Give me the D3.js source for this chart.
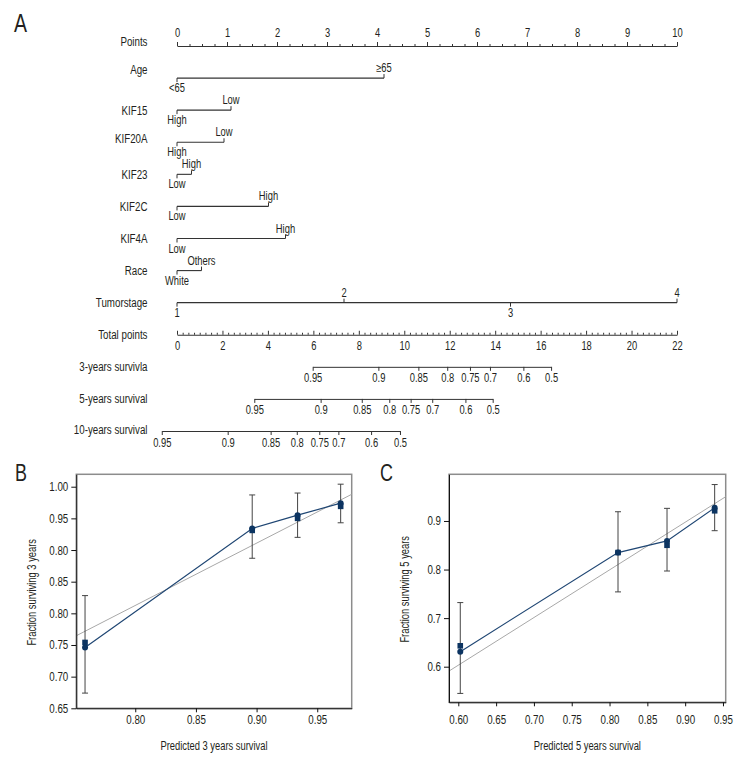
<!DOCTYPE html>
<html>
<head>
<meta charset="utf-8">
<script src="https://cdn.jsdelivr.net/npm/d3@7"></script>
<style>
  body { margin: 0; background: #fff; }
  svg { display: block; }
</style>
</head>
<body>
<div id="chart"></div>
<script>
// ---- nomogram data ----
const pointsTicks = d3.range(0, 11);
const varNames = ["Age", "KIF15", "KIF20A", "KIF23", "KIF2C", "KIF4A", "Race", "Tumorstage"];
const varLevels = [
  ["<65", "≥65"],
  ["High", "Low"],
  ["High", "Low"],
  ["Low", "High"],
  ["Low", "High"],
  ["Low", "High"],
  ["White", "Others"],
  ["1", "2", "3", "4"],
];
const varPoints = [
  [0, 4.14],
  [0, 1.08],
  [0, 0.94],
  [0, 0.29],
  [0, 1.83],
  [0, 2.17],
  [0, 0.49],
  [0, 3.34, 6.67, 10],
];
const totalTicks = d3.range(0, 23, 2);
const survNames = ["3-years survivla", "5-years survival", "10-years survival"];
const survLabels = [0.95, 0.9, 0.85, 0.8, 0.75, 0.7, 0.6, 0.5];
const survTotals = [
  [5.97, 8.86, 10.62, 11.89, 12.89, 13.77, 15.24, 16.46],
  [3.40, 6.32, 8.13, 9.34, 10.28, 11.23, 12.69, 13.89],
  [-0.67, 2.23, 4.12, 5.27, 6.26, 7.10, 8.54, 9.81],
];

// ---- calibration data (panel B, 3 years) ----
const predB = [0.7586, 0.8964, 0.9338, 0.9693];
const obsB = [0.746, 0.934, 0.955, 0.974];
const corrB = [0.754, 0.931, 0.950, 0.969];
const hiB = [0.828, 0.987, 0.990, 1.004];
const loB = [0.674, 0.887, 0.920, 0.943];
const idealBx = [0.7514, 0.9784];
const idealBy = [0.7646, 0.988];
const xTicksB = [0.80, 0.85, 0.90, 0.95];
const yTicksB = [0.65, 0.70, 0.75, 0.80, 0.85, 0.90, 0.95, 1.00];
const yTickLabelsB = ["0.65", "0.70", "0.75", "0.80", "0.85", "0.80", "0.95", "1.00"];

// ---- calibration data (panel C, 5 years) ----
const predC = [0.6026, 0.8112, 0.876, 0.939];
const obsC = [0.631, 0.835, 0.859, 0.927];
const corrC = [0.643, 0.835, 0.850, 0.921];
const hiC = [0.732, 0.919, 0.926, 0.975];
const loC = [0.545, 0.754, 0.797, 0.880];
const idealCx = [0.5877, 0.9536];
const idealCy = [0.591, 0.950];
const xTicksC = [0.60, 0.65, 0.70, 0.75, 0.80, 0.85, 0.90, 0.95];
const yTicksC = [0.6, 0.7, 0.8, 0.9];

const width = 756, height = 780;
const FONT = "'Liberation Sans',Arial,sans-serif";
const SQUEEZE = 0.78; // the original uses a condensed face
const ink = "#231f20";
const navy = "#0c3461";

const svg = d3.select("#chart").append("svg")
  .attr("width", width).attr("height", height)
  .style("font-family", FONT);

// panel letters
svg.append("text").attr("x", 14).attr("y", 32).text("A")
  .attr("font-size", 25).attr("fill", ink);
svg.append("text").attr("x", 15).attr("y", 481).text("B")
  .attr("font-size", 23).attr("fill", ink);
svg.append("text").attr("x", 380).attr("y", 481).text("C")
  .attr("font-size", 23).attr("fill", ink);

// ================= nomogram =================
const rowNames = ["Points", ...varNames, "Total points", ...survNames];
const yRow = d3.scalePoint().domain(rowNames).range([46, 431]);
const xPts = d3.scaleLinear().domain([0, 10]).range([177, 677]);
const xTot = d3.scaleLinear().domain([0, 22]).range([177, 677]);

const nomo = svg.append("g").attr("id", "nomogram");

const styleAxis = (g, size) => {
  g.select(".domain").attr("stroke", "#333");
  g.selectAll(".tick line").attr("stroke", "#333");
  g.selectAll(".tick text").attr("fill", ink).attr("font-size", size)
    .style("font-family", FONT);
};

// a few row labels sit a little above their line in the original
const labelShift = { Points: -4, Age: -8, KIF20A: -4, "10-years survival": -1 };

// row labels
nomo.selectAll("text.rowlab").data(rowNames).join("text")
  .attr("class", "rowlab")
  .attr("x", 147.5)
  .attr("y", (d) => yRow(d) + (labelShift[d] || 0))
  .attr("dy", "0.35em")
  .attr("text-anchor", "end")
  .attr("font-size", 12.5)
  .attr("fill", ink)
  .text((d) => d);

// points axis
const ptsG = nomo.append("g").attr("transform", `translate(0,${yRow("Points")})`);
ptsG.append("g")
  .call(d3.axisTop(xPts).tickValues(d3.range(0, 10.01, 0.25).filter((v) => v % 1 !== 0))
    .tickSize(2).tickSizeOuter(0).tickFormat(""))
  .call((g) => g.select(".domain").remove())
  .call(styleAxis, 12);
ptsG.append("g")
  .call(d3.axisTop(xPts).tickValues(pointsTicks).tickSize(4).tickSizeOuter(0).tickPadding(5))
  .call(styleAxis, 12);

// variable rows
varNames.forEach((name, i) => {
  const y = yRow(name);
  const pts = varPoints[i];
  const g = nomo.append("g").attr("transform", `translate(0,${y})`);
  g.append("line")
    .attr("x1", xPts(d3.min(pts))).attr("x2", xPts(d3.max(pts)))
    .attr("stroke", "#333").attr("stroke-width", 1.1);
  const lv = pts.map((p, j) => ({ p, label: varLevels[i][j], up: j % 2 === 1 }));
  g.selectAll("line.tk").data(lv).join("line")
    .attr("class", "tk")
    .attr("x1", (d) => xPts(d.p)).attr("x2", (d) => xPts(d.p))
    .attr("y1", 0).attr("y2", (d) => (d.up ? -4 : 4))
    .attr("stroke", "#333");
  g.selectAll("text").data(lv).join("text")
    .attr("x", (d) => xPts(d.p))
    .attr("y", (d) => (d.up ? -6 : 14))
    .attr("text-anchor", "middle")
    .attr("font-size", 12)
    .attr("fill", ink)
    .text((d) => d.label);
});

// total points axis (ticks up, labels below)
const totG = nomo.append("g").attr("transform", `translate(0,${yRow("Total points")})`);
totG.append("g")
  .call(d3.axisBottom(xTot).tickValues(d3.range(0, 22.01, 0.25).filter((v) => v % 2 !== 0))
    .tickSize(-2).tickSizeOuter(0).tickFormat(""))
  .call((g) => g.select(".domain").remove())
  .call(styleAxis, 12);
totG.append("g")
  .call(d3.axisBottom(xTot).tickValues(totalTicks).tickSize(-4).tickSizeOuter(0).tickPadding(7))
  .call(styleAxis, 12);

// survival axes
survNames.forEach((name, i) => {
  const tp = survTotals[i];
  const ext = d3.extent(tp);
  const sc = xTot.copy().domain(ext).range(ext.map(xTot));
  nomo.append("g")
    .attr("transform", `translate(0,${yRow(name)})`)
    .call(d3.axisBottom(sc).tickValues(tp).tickSize(4).tickSizeOuter(0).tickPadding(3)
      .tickFormat((d, j) => String(survLabels[j])))
    .call(styleAxis, 12);
});

// ================= calibration panels =================
const drawCalib = (g, cfg) => {
  const { x, y, pred, obs, corr, hi, lo, idealX, idealY, xTicks, yTicks, yFormat, xFormat, xPad, xTitle, yTitle, yTitleX } = cfg;
  const [x0, x1] = x.range();
  const [y0, y1] = y.range();
  const clipId = "clip-" + cfg.id;
  g.append("clipPath").attr("id", clipId)
    .append("rect").attr("x", x0).attr("y", y1).attr("width", x1 - x0).attr("height", y0 - y1);

  g.append("rect")
    .attr("x", x0).attr("y", y1).attr("width", x1 - x0).attr("height", y0 - y1)
    .attr("fill", "none").attr("stroke", "#8c8c8c").attr("stroke-width", 1.5);

  // ideal reference line
  g.append("line")
    .attr("clip-path", `url(#${clipId})`)
    .attr("x1", x(idealX[0])).attr("y1", y(idealY[0]))
    .attr("x2", x(idealX[1])).attr("y2", y(idealY[1]))
    .attr("stroke", "#a8a8a8").attr("stroke-width", 1);

  const idx = d3.range(pred.length);
  // error bars
  const eb = g.append("g").attr("stroke", "#444").attr("stroke-width", 1);
  eb.selectAll("line.v").data(idx).join("line").attr("class", "v")
    .attr("x1", (i) => x(pred[i])).attr("x2", (i) => x(pred[i]))
    .attr("y1", (i) => y(hi[i])).attr("y2", (i) => y(lo[i]));
  [hi, lo].forEach((arr) => {
    eb.append("g").selectAll("line").data(idx).join("line")
      .attr("x1", (i) => x(pred[i]) - 3).attr("x2", (i) => x(pred[i]) + 3)
      .attr("y1", (i) => y(arr[i])).attr("y2", (i) => y(arr[i]));
  });

  // observed line
  g.append("path")
    .datum(idx)
    .attr("fill", "none").attr("stroke", "#1f4673").attr("stroke-width", 1.2)
    .attr("d", d3.line().x((i) => x(pred[i])).y((i) => y(obs[i])));

  g.selectAll("rect.sq").data(idx).join("rect").attr("class", "sq")
    .attr("x", (i) => x(pred[i]) - 2.8).attr("y", (i) => y(corr[i]) - 2.8)
    .attr("width", 5.6).attr("height", 5.6).attr("fill", navy);
  g.selectAll("circle.pt").data(idx).join("circle").attr("class", "pt")
    .attr("cx", (i) => x(pred[i])).attr("cy", (i) => y(obs[i]))
    .attr("r", 3).attr("fill", navy);

  // axes
  g.append("g").attr("transform", `translate(0,${y0})`)
    .call(d3.axisBottom(x).tickValues(xTicks).tickSize(4).tickSizeOuter(0).tickPadding(xPad).tickFormat(xFormat))
    .call((a) => a.select(".domain").attr("stroke", "#111"))
    .call((a) => a.selectAll(".tick line").attr("stroke", "#111"))
    .call((a) => a.selectAll(".tick text").attr("fill", ink).attr("font-size", 12.5).style("font-family", FONT));
  g.append("g").attr("transform", `translate(${x0},0)`)
    .call(d3.axisLeft(y).tickValues(yTicks).tickSize(5).tickSizeOuter(0).tickPadding(3).tickFormat(yFormat))
    .call((a) => a.select(".domain").attr("stroke", "#111"))
    .call((a) => a.selectAll(".tick line").attr("stroke", "#111"))
    .call((a) => a.selectAll(".tick text").attr("fill", ink).attr("font-size", 12.5).style("font-family", FONT));

  g.append("text")
    .attr("x", (x0 + x1) / 2).attr("y", 746).attr("dy", "0.35em")
    .attr("text-anchor", "middle").attr("font-size", 12).attr("fill", ink)
    .text(xTitle);
  g.append("text")
    .attr("transform", `translate(${yTitleX},${(y0 + y1) / 2 + 1}) rotate(-90)`)
    .attr("dy", "0.35em")
    .attr("text-anchor", "middle").attr("font-size", 12).attr("fill", ink)
    .text(yTitle);
};

const xB = d3.scaleLinear().domain([0.7514, 0.9784]).range([76.3, 351.7]);
const yB = d3.scaleLinear().domain([0.65, 1.0196]).range([708.3, 474.3]);
svg.append("g").attr("id", "panel-b").call(drawCalib, {
  id: "b", x: xB, y: yB,
  pred: predB, obs: obsB, corr: corrB, hi: hiB, lo: loB,
  idealX: idealBx, idealY: idealBy,
  xTicks: xTicksB, yTicks: yTicksB,
  xFormat: d3.format(".2f"),
  yFormat: (d, i) => yTickLabelsB[i],
  xPad: 3,
  xTitle: "Predicted 3 years survival",
  yTitle: "Fraction surviving 3 years",
  yTitleX: 32,
});

const xC = d3.scaleLinear().domain([0.5877, 0.9536]).range([449, 725.7]);
const yC = d3.scaleLinear().domain([0.5267, 0.9961]).range([702.3, 474.3]);
svg.append("g").attr("id", "panel-c").call(drawCalib, {
  id: "c", x: xC, y: yC,
  pred: predC, obs: obsC, corr: corrC, hi: hiC, lo: loC,
  idealX: idealCx, idealY: idealCy,
  xTicks: xTicksC, yTicks: yTicksC,
  xFormat: d3.format(".2f"),
  yFormat: d3.format(".1f"),
  xPad: 9,
  xTitle: "Predicted 5 years survival",
  yTitle: "Fraction surviving 5 years",
  yTitleX: 405,
});

// squeeze every label horizontally to mimic the condensed face
svg.selectAll("text").each(function () {
  const len = this.getComputedTextLength();
  if (len > 0) {
    d3.select(this)
      .attr("textLength", len * SQUEEZE)
      .attr("lengthAdjust", "spacingAndGlyphs");
  }
});
</script>
</body>
</html>
